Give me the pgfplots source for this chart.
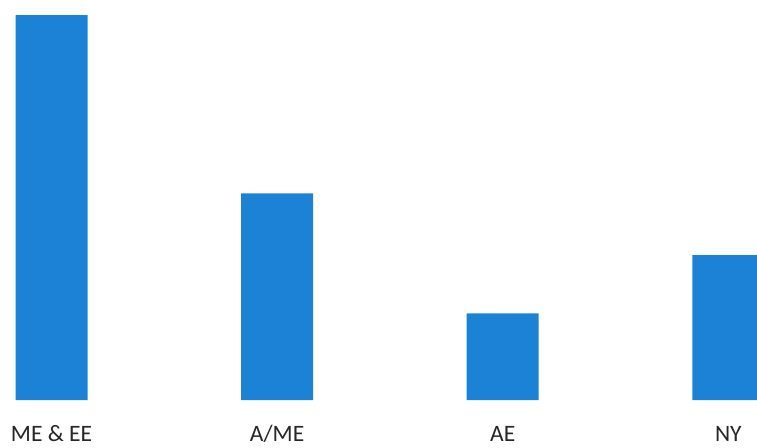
\documentclass[border=0pt]{standalone}
\usepackage{pgfplots}
\pgfplotsset{compat=1.18}
\usepackage{fontspec}
\setmainfont{Carlito}
\definecolor{barblue}{RGB}{28,130,214}
\begin{document}
\begin{tikzpicture}
\begin{axis}[
  scale only axis,
  width=757bp, height=400bp,
  xmin=-0.2283, xmax=3.1272,
  ymin=0, ymax=400,
  axis line style={draw=none},
  ymajorticks=false,
  xtick=data,
  xticklabels={ME \& EE, A/ME, AE, NY},
  major tick length=0pt,
  xticklabel style={anchor=base, inner sep=0pt, yshift=-41.7bp, font=\fontsize{23.5bp}{28bp}\selectfont, text=black!85},
  clip=true,
]
\addplot[ybar, bar width=72bp, fill=barblue, draw=none] coordinates {(0,385) (1,206.7) (2,86.7) (3,145)};
\end{axis}
\pgfresetboundingbox
\useasboundingbox (0,-48bp) rectangle (757bp,400bp);
\end{tikzpicture}
\end{document}
